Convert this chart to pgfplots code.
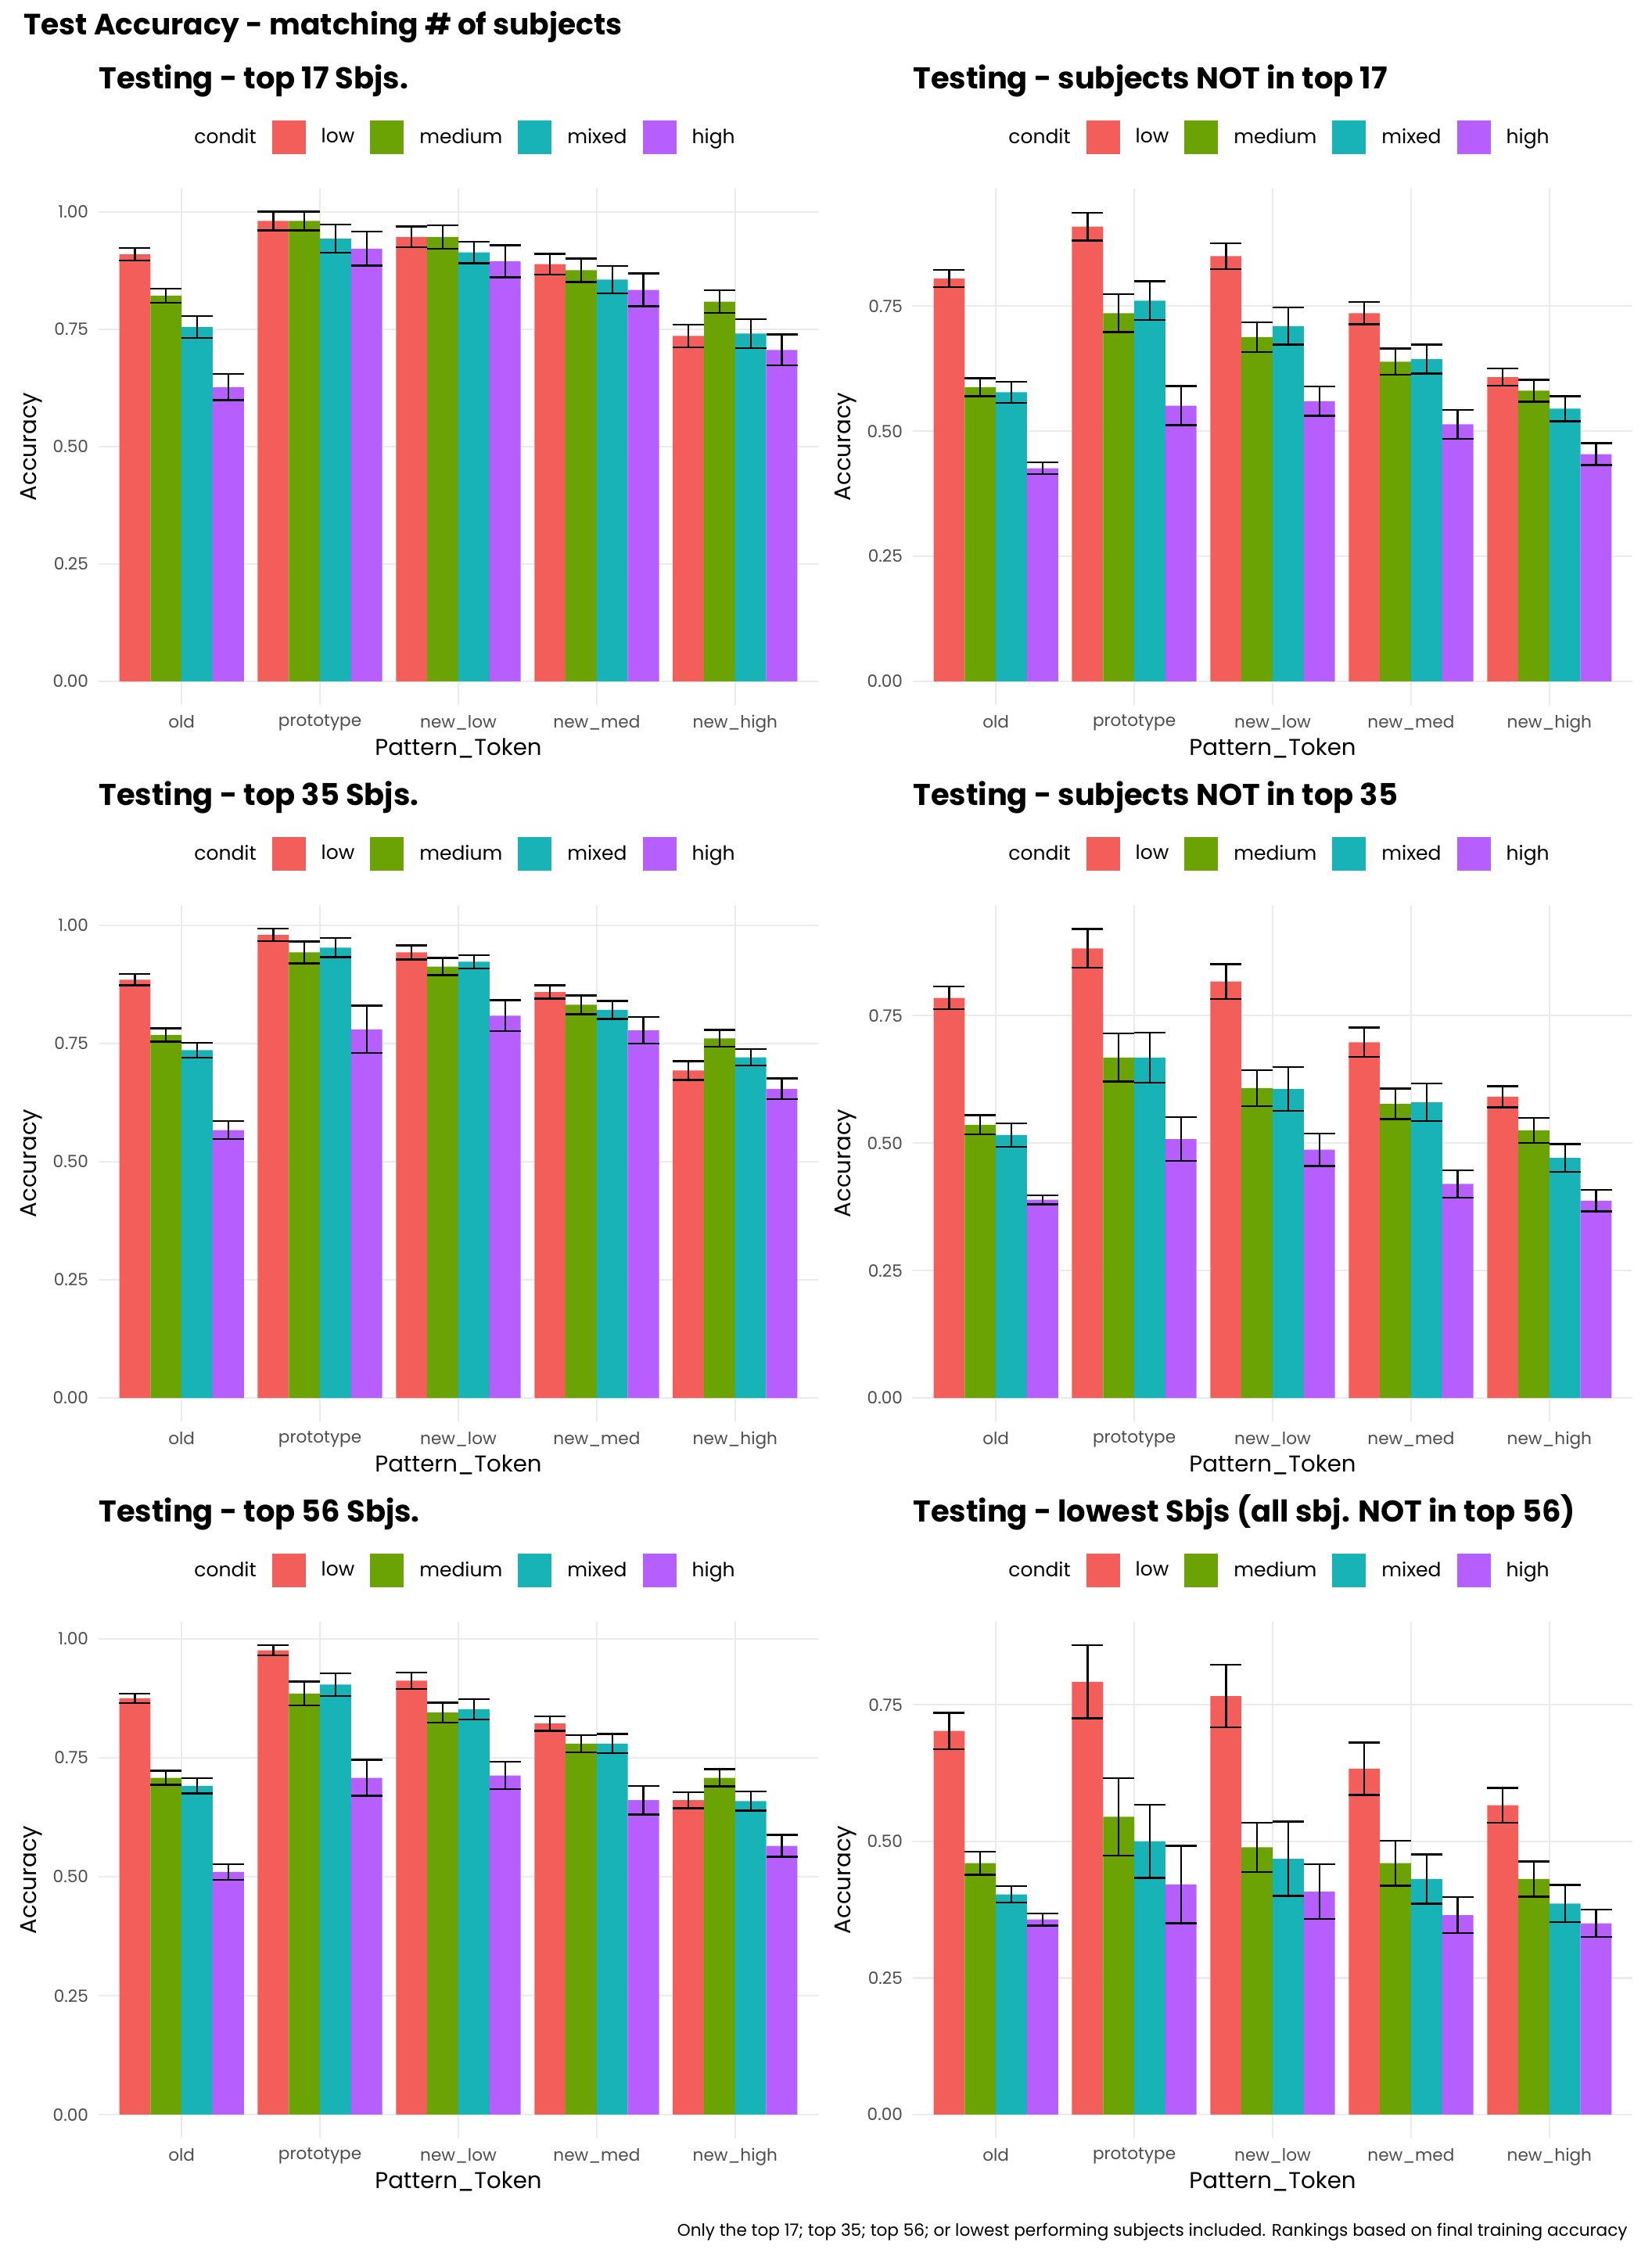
\documentclass[border=0pt]{standalone}
\usepackage{fontspec}
\setmainfont{Poppins}
\usepackage{pgfplots}
\usepackage{pgfplotstable}
\pgfplotsset{compat=1.18}
\definecolor{cLow}{HTML}{F35E5A}
\definecolor{cMed}{HTML}{6BA305}
\definecolor{cMix}{HTML}{18B3B7}
\definecolor{cHigh}{HTML}{B65FFE}
\definecolor{gridc}{HTML}{EBEBEB}
\definecolor{tickc}{HTML}{4D4D4D}

\pgfplotstableread{
x low lowe med mede mix mixe high highe
0 0.910 0.013 0.822 0.015 0.755 0.023 0.627 0.028
1 0.981 0.020 0.981 0.020 0.943 0.030 0.922 0.036
2 0.947 0.022 0.947 0.025 0.914 0.023 0.895 0.034
3 0.889 0.022 0.876 0.025 0.856 0.029 0.834 0.035
4 0.736 0.024 0.809 0.024 0.741 0.031 0.706 0.033
}\tA
\pgfplotstableread{
x low lowe med mede mix mixe high highe
0 0.805 0.017 0.588 0.018 0.578 0.021 0.426 0.012
1 0.909 0.028 0.736 0.038 0.761 0.039 0.551 0.039
2 0.850 0.026 0.688 0.030 0.710 0.037 0.560 0.029
3 0.736 0.022 0.639 0.026 0.644 0.029 0.514 0.029
4 0.608 0.017 0.581 0.022 0.545 0.025 0.454 0.022
}\tB
\pgfplotstableread{
x low lowe med mede mix mixe high highe
0 0.885 0.012 0.768 0.014 0.736 0.016 0.567 0.019
1 0.980 0.013 0.943 0.023 0.953 0.020 0.780 0.050
2 0.943 0.015 0.913 0.018 0.923 0.014 0.809 0.033
3 0.859 0.014 0.832 0.020 0.821 0.019 0.778 0.028
4 0.693 0.020 0.761 0.018 0.721 0.017 0.654 0.022
}\tC
\pgfplotstableread{
x low lowe med mede mix mixe high highe
0 0.785 0.022 0.536 0.019 0.516 0.023 0.389 0.009
1 0.882 0.038 0.668 0.047 0.668 0.049 0.508 0.043
2 0.817 0.034 0.608 0.035 0.606 0.043 0.487 0.032
3 0.698 0.029 0.577 0.030 0.580 0.037 0.420 0.027
4 0.591 0.021 0.525 0.025 0.471 0.027 0.387 0.021
}\tD
\pgfplotstableread{
x low lowe med mede mix mixe high highe
0 0.875 0.010 0.708 0.015 0.691 0.016 0.510 0.016
1 0.976 0.011 0.885 0.025 0.904 0.024 0.708 0.038
2 0.912 0.017 0.845 0.021 0.852 0.021 0.713 0.029
3 0.822 0.015 0.780 0.018 0.780 0.020 0.661 0.030
4 0.661 0.017 0.708 0.018 0.659 0.020 0.565 0.023
}\tE
\pgfplotstableread{
x low lowe med mede mix mixe high highe
0 0.702 0.033 0.460 0.021 0.403 0.015 0.357 0.011
1 0.792 0.067 0.545 0.071 0.500 0.067 0.421 0.071
2 0.766 0.057 0.489 0.045 0.468 0.068 0.408 0.050
3 0.633 0.048 0.460 0.041 0.431 0.045 0.365 0.033
4 0.566 0.032 0.431 0.032 0.386 0.034 0.350 0.025
}\tF

\pgfplotsset{
  panel/.style={
    scale only axis, width=460pt, height=330pt, anchor=north west,
    xmin=-0.6, xmax=4.6,
    xtick={0,1,2,3,4},
    xticklabels={old,prototype,new\_low,new\_med,new\_high},
    axis line style={draw=none},
    major tick length=0pt,
    grid=major,
    major grid style={draw=gridc, line width=1.1pt},
    tick label style={font=\fontsize{10.8}{12}\selectfont, text=tickc},
    xticklabel style={yshift=-3pt},
    yticklabel style={xshift=-3pt},
    xlabel={Pattern\_Token}, ylabel={Accuracy},
    label style={font=\fontsize{14.6}{17}\selectfont},
    xlabel style={at={(axis description cs:0.5,-0.0833)}, anchor=center},
    ylabel style={at={(axis description cs:-0.0935,0.5)}, anchor=center},
    ybar, bar width=0.225,
    error bars/y dir=both, error bars/y explicit,
    error bars/error bar style={draw=black, line width=1.2pt},
    error bars/error mark options={rotate=90, draw=black, line width=1.2pt, mark size=10pt},
    legend columns=-1,
    legend style={at={(0.5,1.0667)}, anchor=south, draw=none, fill=none,
      inner sep=0pt, font=\fontsize{12.5}{15}\selectfont,
      /tikz/every odd column/.append style={column sep=8pt},
      /tikz/every even column/.append style={column sep=8pt}},
    legend image code/.code={\fill[##1] (0pt,-10.75pt) rectangle (21.5pt,10.75pt);},
  },
  ticksA/.style={ytick={0,0.25,0.5,0.75,1}, yticklabels={0.00,0.25,0.50,0.75,1.00}},
  ticksB/.style={ytick={0,0.25,0.5,0.75}, yticklabels={0.00,0.25,0.50,0.75}},
}

\newcommand{\panelplots}[1]{%
  \addlegendimage{empty legend}\addlegendentry{condit}
  \addplot[fill=cLow, draw=none, bar shift=-0.3375] table[x=x, y=low, y error=lowe]{#1};
  \addlegendentry{low}
  \addplot[fill=cMed, draw=none, bar shift=-0.1125] table[x=x, y=med, y error=mede]{#1};
  \addlegendentry{medium}
  \addplot[fill=cMix, draw=none, bar shift=0.1125] table[x=x, y=mix, y error=mixe]{#1};
  \addlegendentry{mixed}
  \addplot[fill=cHigh, draw=none, bar shift=0.3375] table[x=x, y=high, y error=highe]{#1};
  \addlegendentry{high}
}

\begin{document}
\begin{tikzpicture}
\useasboundingbox (0,0) rectangle (1056pt,-1440pt);
\node[anchor=base west, font=\bfseries\fontsize{18.8}{22}\selectfont, inner sep=0pt] at (15pt,-22pt) {Test Accuracy - matching \# of subjects};

% row 1
\begin{axis}[panel, ticksA, at={(63pt,-120.5pt)}, ymin=-0.05, ymax=1.05]
\panelplots{\tA}
\end{axis}
\begin{axis}[panel, ticksB, at={(583.5pt,-120.5pt)}, ymin=-0.0469, ymax=0.985]
\panelplots{\tB}
\end{axis}
% row 2
\begin{axis}[panel, ticksA, at={(63pt,-578.5pt)}, ymin=-0.0497, ymax=1.043]
\panelplots{\tC}
\end{axis}
\begin{axis}[panel, ticksB, at={(583.5pt,-578.5pt)}, ymin=-0.046, ymax=0.967]
\panelplots{\tD}
\end{axis}
% row 3
\begin{axis}[panel, ticksA, at={(63pt,-1036.5pt)}, ymin=-0.049, ymax=1.036]
\panelplots{\tE}
\end{axis}
\begin{axis}[panel, ticksB, at={(583.5pt,-1036.5pt)}, ymin=-0.043, ymax=0.902]
\panelplots{\tF}
\end{axis}

\tikzset{ptitle/.style={anchor=base west, inner sep=0pt, font=\bfseries\fontsize{19.2}{22}\selectfont}}
\node[ptitle] at (63pt,-56.8pt) {Testing - top 17 Sbjs.};
\node[ptitle] at (583.5pt,-56.8pt) {Testing - subjects NOT in top 17};
\node[ptitle] at (63pt,-514.8pt) {Testing - top 35 Sbjs.};
\node[ptitle] at (583.5pt,-514.8pt) {Testing - subjects NOT in top 35};
\node[ptitle] at (63pt,-972.8pt) {Testing - top 56 Sbjs.};
\node[ptitle] at (583.5pt,-972.8pt) {Testing - lowest Sbjs (all sbj. NOT in top 56)};

\node[anchor=base east, inner sep=0pt, font=\fontsize{10.8}{12}\selectfont] at (1040.5pt,-1429pt) {Only the top 17; top 35; top 56; or lowest performing subjects included. Rankings based on final training accuracy};
\end{tikzpicture}
\end{document}
